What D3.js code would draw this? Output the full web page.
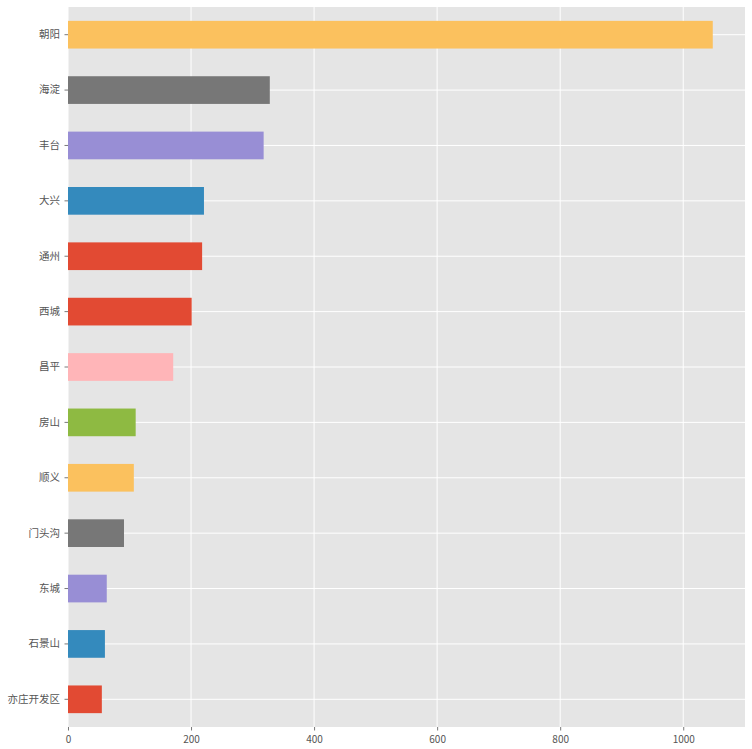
<!DOCTYPE html>
<html>
<head>
<meta charset="utf-8">
<script src="https://cdn.jsdelivr.net/npm/d3@7"></script>
<style>
  html, body { margin: 0; padding: 0; background: #ffffff; }
  svg { display: block; }
  text { font-family: "Noto Sans CJK SC", "Noto Sans", sans-serif; fill: #555555; }
</style>
</head>
<body>
<svg id="chart" width="752" height="749"></svg>
<script>
// Data (top to bottom as displayed)
const districts = ["朝阳", "海淀", "丰台", "大兴", "通州", "西城", "昌平", "房山", "顺义", "门头沟", "东城", "石景山", "亦庄开发区"];
const counts = [1048, 328, 318, 221, 218, 201, 171, 110, 107, 91, 63, 60, 55];
const barColors = ["#FBC15E", "#777777", "#988ED5", "#348ABD", "#E24A33", "#E24A33", "#FFB5B8", "#8EBA42", "#FBC15E", "#777777", "#988ED5", "#348ABD", "#E24A33"];
const xTicks = [0, 200, 400, 600, 800, 1000];

(function () {
const svg = d3.select("#chart");
const W = 752, H = 749;
const pLeft = 68, pRight = 745, pTop = 7, pBottom = 727;

const x = d3.scaleLinear().domain([0, d3.max(counts) * 1.05]).range([pLeft, pRight]);
const y = d3.scaleBand().domain(districts).range([pTop, pBottom]).paddingInner(0.5).paddingOuter(0.25);

// background
svg.append("rect").attr("x", pLeft).attr("y", pTop).attr("width", pRight - pLeft).attr("height", pBottom - pTop).attr("fill", "#E5E5E5");

// grid
const grid = svg.append("g");
grid.selectAll("line.v").data(xTicks).join("line").attr("class", "v")
  .attr("x1", d => x(d)).attr("x2", d => x(d)).attr("y1", pTop).attr("y2", pBottom)
  .attr("stroke", "#ffffff").attr("stroke-width", 1);
grid.selectAll("line.h").data(districts).join("line").attr("class", "h")
  .attr("x1", pLeft).attr("x2", pRight)
  .attr("y1", d => y(d) + y.bandwidth() / 2).attr("y2", d => y(d) + y.bandwidth() / 2)
  .attr("stroke", "#ffffff").attr("stroke-width", 1);

// bars
svg.append("g").selectAll("rect").data(districts).join("rect")
  .attr("x", x(0))
  .attr("y", d => y(d))
  .attr("width", (d, i) => x(counts[i]) - x(0))
  .attr("height", y.bandwidth())
  .attr("fill", (d, i) => barColors[i]);

// x axis
const xAxis = d3.axisBottom(x).tickValues(xTicks).tickSize(3.5).tickPadding(5).tickFormat(d3.format("d"));
const gx = svg.append("g").attr("transform", `translate(0,${pBottom})`).call(xAxis);
gx.select(".domain").remove();
gx.selectAll("line").attr("stroke", "#555555").attr("stroke-width", 0.8);
gx.selectAll("text").style("font-size", "10px").attr("fill", "#555555");

// y axis
const yAxis = d3.axisLeft(y).tickSize(3.5).tickPadding(4.5);
const gy = svg.append("g").attr("transform", `translate(${pLeft},0)`).call(yAxis);
gy.select(".domain").remove();
gy.selectAll("line").attr("stroke", "#555555").attr("stroke-width", 0.8);
gy.selectAll("text").style("font-size", "10.5px").attr("fill", "#555555");
})();
</script>
</body>
</html>
